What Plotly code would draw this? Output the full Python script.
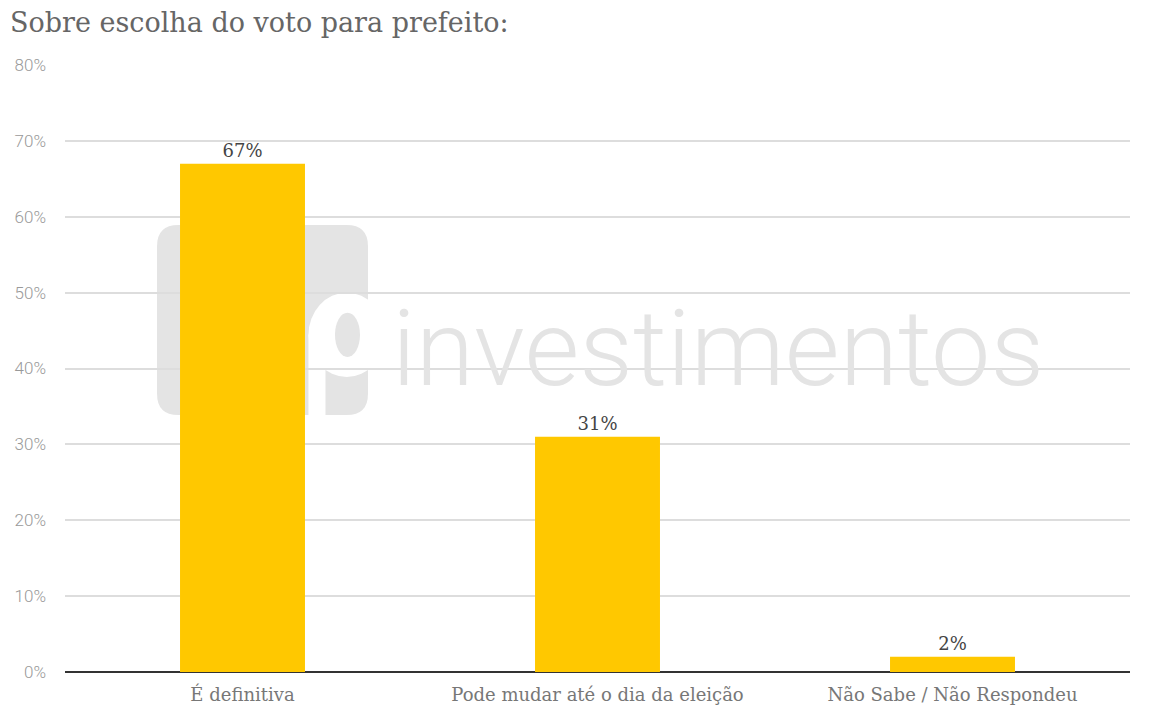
import plotly.graph_objects as go

# data
categorias = ["É definitiva", "Pode mudar até o dia da eleição", "Não Sabe / Não Respondeu"]
valores = [67, 31, 2]
rotulos = ["67%", "31%", "2%"]
ticks_y = [0, 10, 20, 30, 40, 50, 60, 70, 80]
ticks_txt = [f"{v}%" for v in ticks_y]

AMARELO = "#ffc800"
CINZA_LOGO = "#e4e4e4"

fig = go.Figure()
fig.add_trace(go.Bar(
    x=categorias, y=valores,
    marker=dict(color=AMARELO, line=dict(width=0)),
    text=rotulos, textposition="outside", cliponaxis=False,
    textfont=dict(family="DejaVu Serif", size=18, color="#444444"),
    hoverinfo="skip",
))

# watermark logo: rounded square with a "p" cut out (paper coords)
x0, x1, y0, y1 = 0.0864, 0.2845, 0.4234, 0.7364
rx, ry = 0.02, 0.035
logo = (f"M {x0+rx},{y0} L {x1-rx},{y0} Q {x1},{y0} {x1},{y0+ry} "
        f"L {x1},{y1-ry} Q {x1},{y1} {x1-rx},{y1} L {x0+rx},{y1} "
        f"Q {x0},{y1} {x0},{y1-ry} L {x0},{y0+ry} Q {x0},{y0} {x0+rx},{y0} Z")
fig.add_shape(type="path", path=logo, xref="paper", yref="paper",
              fillcolor=CINZA_LOGO, line_width=0, layer="below")
fig.add_shape(type="circle", xref="paper", yref="paper",
              x0=0.2286, x1=0.3005, y0=0.4860, y1=0.6250,
              fillcolor="white", line_width=0, layer="below")
fig.add_shape(type="rect", xref="paper", yref="paper",
              x0=0.2286, x1=0.2446, y0=0.4234, y1=0.5560,
              fillcolor="white", line_width=0, layer="below")
fig.add_shape(type="circle", xref="paper", yref="paper",
              x0=0.2535, x1=0.2770, y0=0.5190, y1=0.5920,
              fillcolor=CINZA_LOGO, line_width=0, layer="below")
fig.add_annotation(text="investimentos", xref="paper", yref="paper",
                   x=0.305, y=0.427, xanchor="left", yanchor="bottom",
                   showarrow=False,
                   font=dict(family="Roboto", size=106, color="#e4e4e4", weight=300))

# page body adds 8px offset, so margins are shifted to keep the plot area in place
fig.update_layout(
    width=1154, height=720,
    margin=dict(l=57, r=32, t=57, b=56),
    paper_bgcolor="white", plot_bgcolor="white",
    showlegend=False,
    bargap=0.648,
    title=dict(text="Sobre escolha do voto para prefeito:",
               x=2/1154, xref="container", xanchor="left",
               y=1-15/720, yref="container", yanchor="middle",
               font=dict(family="DejaVu Serif", size=27, color="#666666")),
)
fig.update_xaxes(
    showgrid=False, showline=False, ticks="",
    tickfont=dict(family="DejaVu Serif", size=18, color="#777777"),
    ticklabelstandoff=10, automargin=False,
)
fig.update_yaxes(
    range=[0, 80], tickmode="array", tickvals=ticks_y, ticktext=ticks_txt,
    showgrid=True, gridcolor="#dddddd", gridwidth=1.5,
    zeroline=True, zerolinecolor="#333333", zerolinewidth=2,
    showline=False, ticks="",
    tickfont=dict(family="Roboto", size=17, color="#999999", weight=300),
    ticklabelstandoff=18, automargin=False,
)

fig.write_html("out.html")
